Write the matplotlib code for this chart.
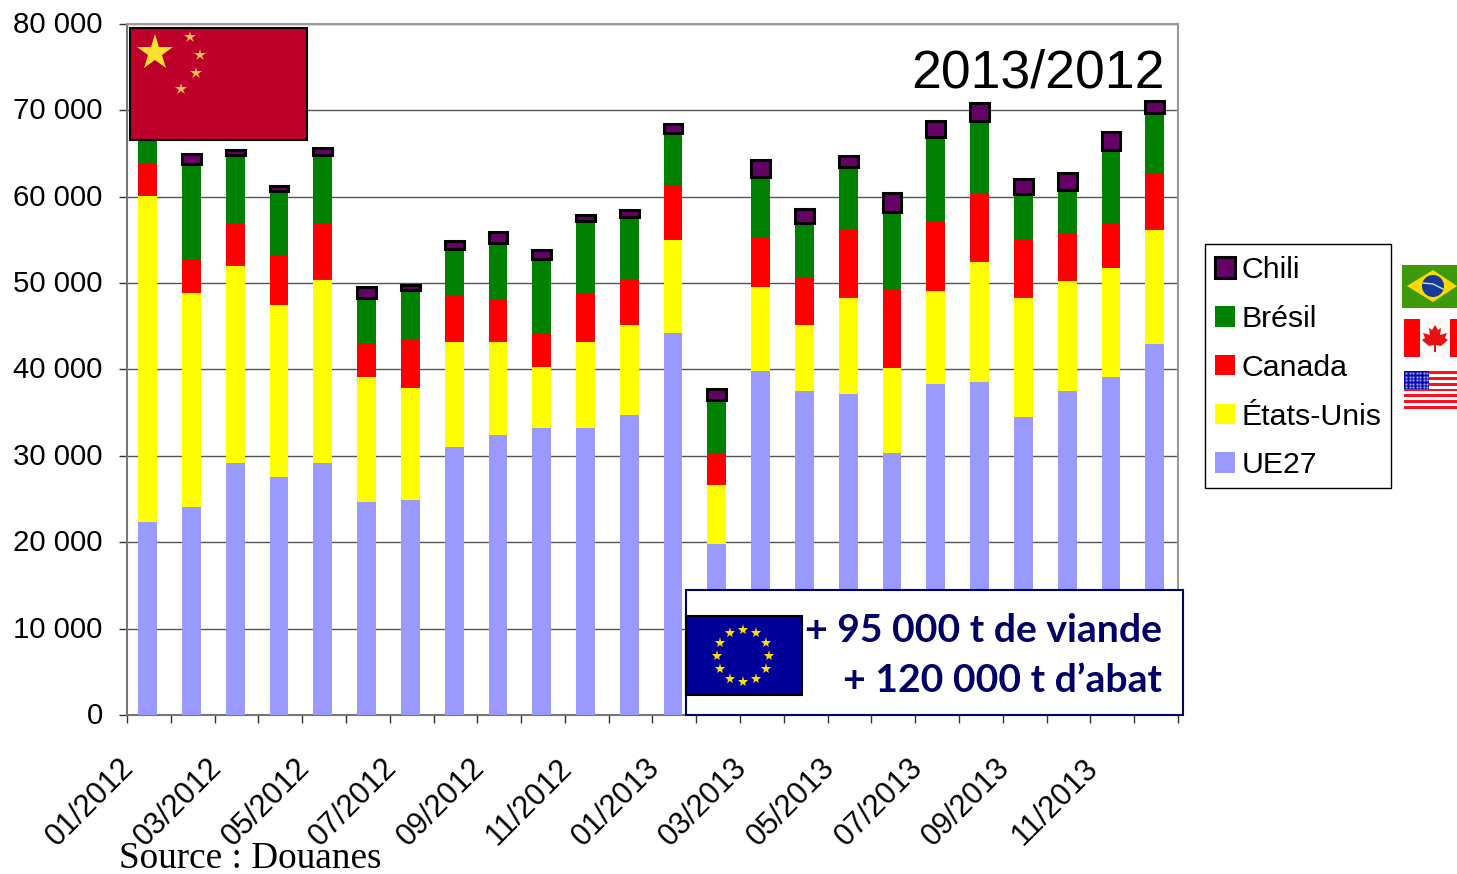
import numpy as np
import matplotlib
matplotlib.use("Agg")
import matplotlib.pyplot as plt
from matplotlib.patches import Rectangle, Polygon, Circle
from matplotlib.transforms import ScaledTranslation

months = ["01/2012","02/2012","03/2012","04/2012","05/2012","06/2012","07/2012","08/2012",
          "09/2012","10/2012","11/2012","12/2012","01/2013","02/2013","03/2013","04/2013",
          "05/2013","06/2013","07/2013","08/2013","09/2013","10/2013","11/2013","12/2013"]
ue27 = [22300,24100,29200,27600,29200,24700,24900,31000,32400,33200,33200,34700,
        44200,19800,39800,37500,37200,30300,38300,38600,34500,37500,39100,42900]
etats_unis = [37800,24800,22800,19900,21200,14400,13000,12200,10800,7100,10000,10400,
              10800,6800,9800,7600,11100,9900,10800,13800,13800,12700,12700,13200]
canada = [3800,3900,4800,5800,6600,3900,5600,5400,4900,3900,5600,5300,
          6300,3700,5700,5600,7900,9100,8100,8000,6700,5600,5200,6600]
bresil = [4000,11000,8000,7400,7800,5300,5700,5400,6500,8600,8400,7300,
          6100,6200,7000,6300,7200,8900,9700,8400,5300,5000,8400,7000]
chili = [1100,1200,600,600,800,1300,600,900,1300,1000,700,800,
         1000,1300,1900,1600,1300,2200,1900,2000,1700,1900,2100,1400]
y_ticks = [0,10000,20000,30000,40000,50000,60000,70000,80000]

plt.rcParams['font.family'] = ['Liberation Sans', 'DejaVu Sans']
W, H = 1457, 874
fig = plt.figure(figsize=(W/100, H/100), dpi=100)
ax = fig.add_axes([127/W, 1-715/H, (1178-127)/W, (715-24)/H])

x = np.arange(len(months))
w = 0.43
series = [("UE27", ue27, "#9999FF"), ("États-Unis", etats_unis, "#FFFF00"),
          ("Canada", canada, "#FF0000"), ("Brésil", bresil, "#008000")]
bottom = np.zeros(len(x))
handles = {}
for name, vals, col in series:
    handles[name] = ax.bar(x, vals, w, bottom=bottom, color=col, zorder=3, label=name)
    bottom += np.array(vals)
handles["Chili"] = ax.bar(x, chili, w, bottom=bottom, color="#660066", edgecolor="black",
                          linewidth=2.2, zorder=3, label="Chili")

x0 = -0.47
ax.set_xlim(x0, x0 + 24)
ax.set_ylim(0, 80000)
ax.set_yticks(y_ticks)
ax.set_yticklabels([f"{v:,}".replace(",", " ") for v in y_ticks], fontsize=21.2)
ax.grid(axis='y', color="#555555", linewidth=1, zorder=0)
ax.set_axisbelow(True)

ax.set_xticks(x[::2])
ax.set_xticklabels(months[::2], fontsize=22, rotation=45, ha='right', va='top', rotation_mode='anchor')
ax.set_xticks(x0 + np.arange(0, 25), minor=True)
ax.tick_params(axis='x', which='major', length=0, pad=10)
ax.tick_params(axis='x', which='minor', length=6, width=1, color="#333333")
ax.tick_params(axis='y', length=6, width=1, color="#333333", pad=11.5)
off = ScaledTranslation(-28.5/100, -24/100, fig.dpi_scale_trans)
for t in ax.get_xticklabels():
    t.set_transform(t.get_transform() + off)
offy = ScaledTranslation(0, 2/100, fig.dpi_scale_trans)
for t in ax.get_yticklabels():
    t.set_transform(t.get_transform() + offy)
for s in ['top', 'right']:
    ax.spines[s].set_color("#999999")
    ax.spines[s].set_linewidth(1.5)
for s in ['left', 'bottom']:
    ax.spines[s].set_color("#777777")
    ax.spines[s].set_linewidth(1.5)

order = ["Chili", "Brésil", "Canada", "États-Unis", "UE27"]
leg = ax.legend([handles[k] for k in order], order, loc='upper left',
                bbox_to_anchor=(1205/W, 1-490/H, 186/W, 244/H), bbox_transform=fig.transFigure,
                mode='expand', borderaxespad=0, fontsize=21.8, frameon=False,
                handlelength=0.66, handleheight=0.66, handletextpad=0.2,
                labelspacing=0.685, borderpad=0.34)
leg.set_zorder(6)

# overlay in pixel coordinates for decorations
ov = fig.add_axes([0, 0, 1, 1], zorder=10)
ov.set_xlim(0, W); ov.set_ylim(H, 0); ov.axis('off'); ov.patch.set_alpha(0)

ov.add_patch(Rectangle((1205, 244), 186, 244, fc="none", ec="black", lw=1, zorder=15))
ov.text(1165, 74, "2013/2012", fontsize=38.5, ha='right', va='center')
ov.text(119, 858.5, "Source : Douanes", fontsize=26.8, ha='left', va='center', family='Liberation Serif')

def star(cx, cy, size, col):
    ov.plot([cx], [cy], marker='*', ms=size, color=col, mec=col, mew=0, zorder=20)

# China
ov.add_patch(Rectangle((130, 28), 177, 112, fc="#BD0029", ec="black", lw=1.5, zorder=15))
star(155, 53, 27, "#FFE030")
for cx, cy in [(190, 37), (200, 55), (196, 73), (181, 89)]:
    star(cx, cy, 9, "#F5C050")

# Highlight box
ov.add_patch(Rectangle((686, 590), 497, 125, fc="white", ec="#000066", lw=1.5, zorder=15))
ov.add_patch(Rectangle((686, 616), 116, 79, fc="#000099", ec="black", lw=1.5, zorder=16))
for a in np.arange(0, 360, 30):
    star(743 + 26*np.cos(np.radians(a)), 656 + 26*np.sin(np.radians(a)), 8, "#FFDD00")
ov.text(1162, 631, "+ 95 000 t de viande", fontsize=28.2, fontweight='bold', color="#000066",
        family='Lato', ha='right', va='center', zorder=17)
ov.text(1162, 681, "+ 120 000 t d\u2019abat", fontsize=28.2, fontweight='bold', color="#000066",
        family='Lato', ha='right', va='center', zorder=17)

# Brazil
ov.add_patch(Rectangle((1402, 265), 55, 43, fc="#3F9A0A", ec="none", zorder=15))
ov.add_patch(Polygon([(1407, 286), (1433, 270), (1457, 286), (1433, 302)], fc="#FFD800", ec="none", zorder=16))
ov.add_patch(Circle((1433, 286), 11, fc="#143C96", ec="none", zorder=17))
ov.plot([1423, 1433, 1443], [283, 284, 289], color="#C8E0D0", lw=1, zorder=18)

# Canada
ov.add_patch(Rectangle((1404, 319), 53, 38, fc="#FAFAFA", ec="none", zorder=15))
ov.add_patch(Rectangle((1404, 319), 16, 38, fc="#FF0000", ec="none", zorder=16))
ov.add_patch(Rectangle((1450, 319), 7, 38, fc="#FF0000", ec="none", zorder=16))
leaf = [(1435,325),(1438,330),(1441,328),(1440,335),(1447,333),(1445,338),(1448,340),
        (1441,346),(1436,345),(1436,352),(1434,352),(1434,345),(1429,346),(1422,340),
        (1425,338),(1423,333),(1430,335),(1429,328),(1432,330)]
ov.add_patch(Polygon(leaf, fc="#E81010", ec="none", zorder=17))

# USA
ov.add_patch(Rectangle((1404, 371), 53, 38, fc="white", ec="none", zorder=15))
for i in range(7):
    y0 = 371 + i*38/6.5
    ov.add_patch(Rectangle((1404, y0), 53, 38/13, fc="#FF1020", ec="none", zorder=16))
ov.add_patch(Rectangle((1404, 371), 25, 17.5, fc="#0808B0", ec="none", zorder=17))
for cx in np.arange(1406, 1429, 3.5):
    for cy in np.arange(373, 388, 3.5):
        ov.plot([cx], [cy], marker='.', ms=1.2, color="#A8A8F0", zorder=18)

fig.savefig("out.png", dpi=100)
